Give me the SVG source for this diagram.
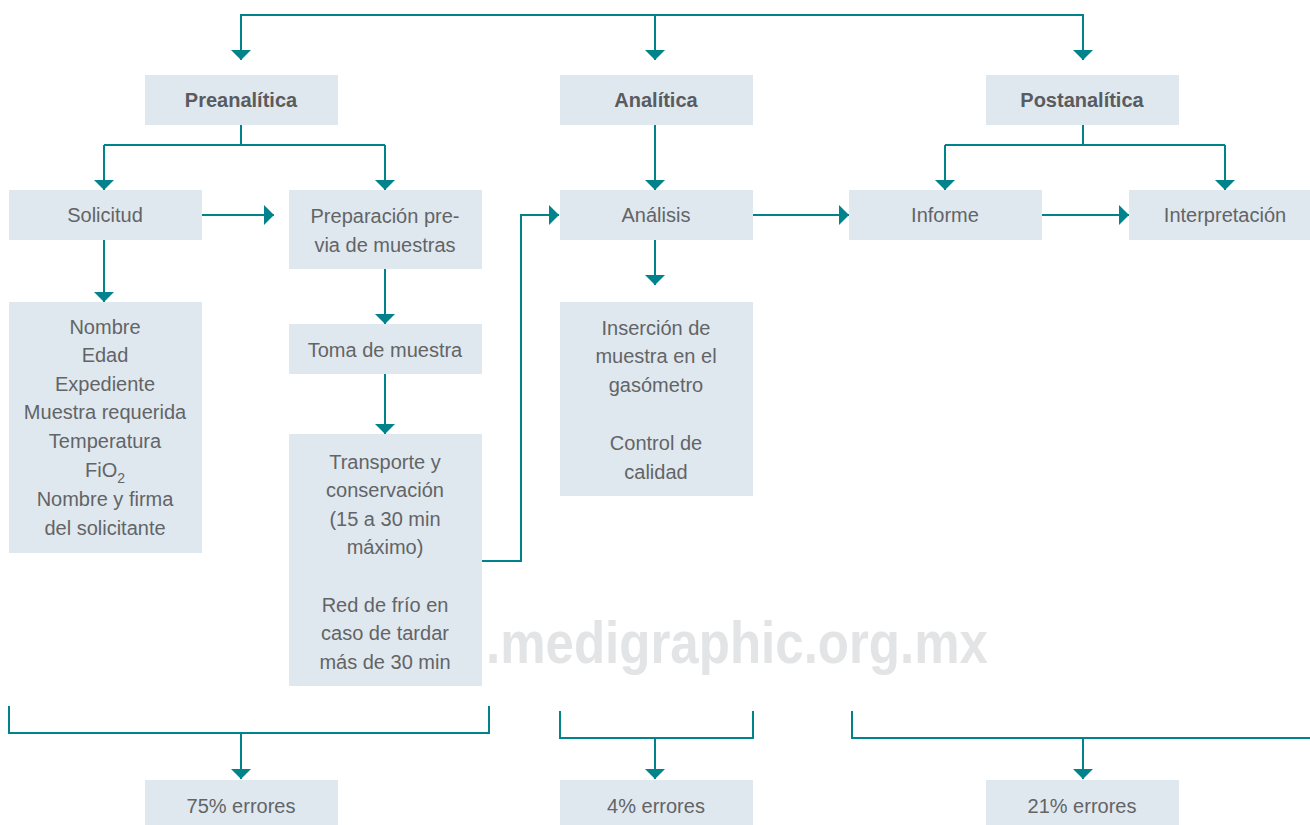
<svg xmlns="http://www.w3.org/2000/svg" width="1310" height="825" viewBox="0 0 1310 825">
<defs>
<marker id="ah" viewBox="0 0 10 20" refX="10" refY="10" markerWidth="10" markerHeight="20" markerUnits="userSpaceOnUse" orient="auto">
<path d="M0,0 L10,10 L0,20 z" fill="#00838a"/>
</marker>
<style>
.box{fill:#dfe8ef;}
.t{font-family:"Liberation Sans",Arial,sans-serif;font-size:20px;fill:#636466;text-anchor:middle;}
.b{font-weight:bold;fill:#5a5b5e;}
.c{fill:none;stroke:#00838a;stroke-width:2;}
.a{marker-end:url(#ah);}
.wm{font-family:"Liberation Sans",Arial,sans-serif;font-weight:bold;font-size:60px;fill:#e3e4e6;}
</style>
</defs>
<rect width="1310" height="825" fill="#ffffff"/>
<text class="wm" x="486" y="663" textLength="502" lengthAdjust="spacingAndGlyphs">.medigraphic.org.mx</text>

<g id="connectors">
<path class="c" d="M241,60 V15 H1083 V60"/>
<path class="c a" d="M241,15 V60"/>
<path class="c a" d="M655,15 V60"/>
<path class="c a" d="M1083,15 V60"/>
<path class="c" d="M241,125 V145 M104,145 H385 M104,145 V165"/>
<path class="c a" d="M104,145 V190"/>
<path class="c a" d="M385,145 V190"/>
<path class="c a" d="M200,215 H274"/>
<path class="c a" d="M104,240 V302"/>
<path class="c a" d="M385,269 V324"/>
<path class="c a" d="M385,374 V434"/>
<path class="c a" d="M482,561 H521 V215 H559"/>
<path class="c a" d="M655,125 V190"/>
<path class="c a" d="M655,240 V285"/>
<path class="c a" d="M753,215 H849"/>
<path class="c a" d="M1042,215 H1129"/>
<path class="c" d="M1083,125 V145 M945,145 H1225"/>
<path class="c a" d="M945,145 V190"/>
<path class="c a" d="M1225,145 V190"/>
<path class="c" d="M9,706 V733 H489 V706"/>
<path class="c a" d="M241,733 V779"/>
<path class="c" d="M560,711 V738 H753 V711"/>
<path class="c a" d="M655,738 V779"/>
<path class="c" d="M852,711 V738 H1310"/>
<path class="c a" d="M1083,738 V779"/>
</g>

<g id="preanalitica"><rect class="box" x="145" y="75" width="193" height="50"/><text class="t b" x="241" y="107">Preanalítica</text></g>
<g id="analitica"><rect class="box" x="560" y="75" width="193" height="50"/><text class="t b" x="656" y="107">Analítica</text></g>
<g id="postanalitica"><rect class="box" x="986" y="75" width="193" height="50"/><text class="t b" x="1082" y="107">Postanalítica</text></g>

<g id="solicitud"><rect class="box" x="9" y="190" width="193" height="50"/><text class="t" x="105" y="222">Solicitud</text></g>
<g id="preparacion"><rect class="box" x="289" y="190" width="193" height="79"/><text class="t" x="385" y="223">Preparación pre-</text><text class="t" x="385" y="252">via de muestras</text></g>
<g id="analisis"><rect class="box" x="560" y="190" width="193" height="50"/><text class="t" x="656" y="222">Análisis</text></g>
<g id="informe"><rect class="box" x="849" y="190" width="193" height="50"/><text class="t" x="945" y="222">Informe</text></g>
<g id="interpretacion"><rect class="box" x="1129" y="190" width="181" height="50"/><text class="t" x="1225" y="222">Interpretación</text></g>

<g id="datos"><rect class="box" x="9" y="302" width="193" height="251"/>
<text class="t" x="105" y="334">Nombre</text>
<text class="t" x="105" y="362">Edad</text>
<text class="t" x="105" y="391">Expediente</text>
<text class="t" x="105" y="419">Muestra requerida</text>
<text class="t" x="105" y="448">Temperatura</text>
<text class="t" x="105" y="477">FiO<tspan font-size="14" dy="6">2</tspan></text>
<text class="t" x="105" y="506">Nombre y firma</text>
<text class="t" x="105" y="535">del solicitante</text>
</g>
<g id="toma"><rect class="box" x="289" y="324" width="193" height="50"/><text class="t" x="385" y="357">Toma de muestra</text></g>
<g id="transporte"><rect class="box" x="289" y="434" width="193" height="252"/>
<text class="t" x="385" y="469">Transporte y</text>
<text class="t" x="385" y="497">conservación</text>
<text class="t" x="385" y="526">(15 a 30 min</text>
<text class="t" x="385" y="554">máximo)</text>
<text class="t" x="385" y="612">Red de frío en</text>
<text class="t" x="385" y="640">caso de tardar</text>
<text class="t" x="385" y="669">más de 30 min</text>
</g>
<g id="insercion"><rect class="box" x="560" y="302" width="193" height="194"/>
<text class="t" x="656" y="335">Inserción de</text>
<text class="t" x="656" y="363">muestra en el</text>
<text class="t" x="656" y="392">gasómetro</text>
<text class="t" x="656" y="450">Control de</text>
<text class="t" x="656" y="479">calidad</text>
</g>

<g id="e75"><rect class="box" x="145" y="780" width="193" height="45"/><text class="t" x="241" y="813">75% errores</text></g>
<g id="e4"><rect class="box" x="560" y="780" width="193" height="45"/><text class="t" x="656" y="813">4% errores</text></g>
<g id="e21"><rect class="box" x="986" y="780" width="193" height="45"/><text class="t" x="1082" y="813">21% errores</text></g>
</svg>
